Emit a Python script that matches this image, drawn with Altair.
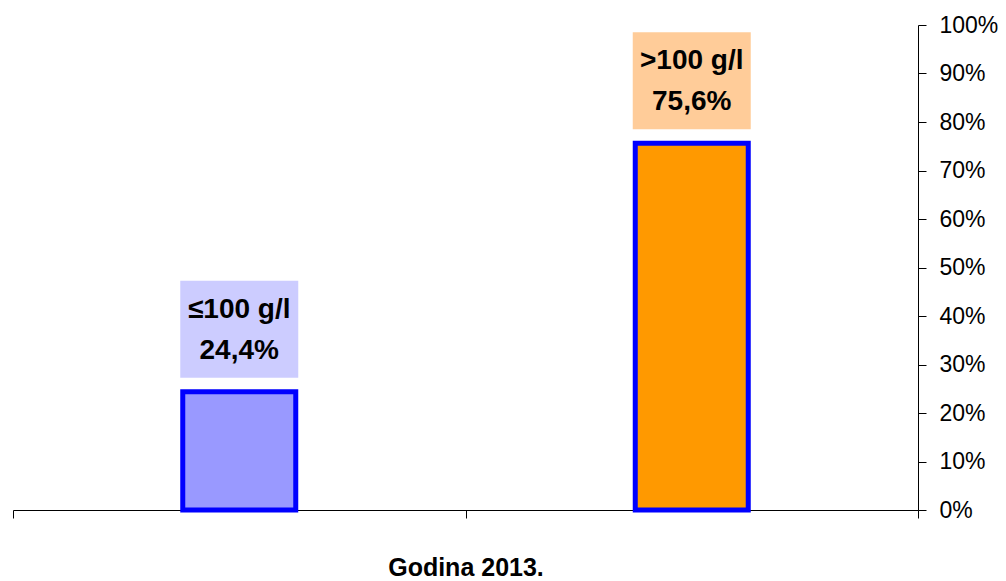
import altair as alt
import pandas as pd

categories = ["≤100 g/l", ">100 g/l"]
values = [0.244, 0.756]
value_labels = ["24,4%", "75,6%"]
bar_colors = ["#9999FF", "#FF9900"]
box_colors = ["#CCCCFF", "#FFCC99"]
x_title = "Godina 2013."

df = pd.DataFrame({
    "cat": categories,
    "value": values,
    "vlabel": value_labels,
    "bar_color": bar_colors,
    "box_color": box_colors,
})

x_enc = alt.X(
    "cat:N",
    sort=categories,
    scale=alt.Scale(paddingInner=0, paddingOuter=0),
    axis=alt.Axis(
        title=x_title,
        labels=False,
        tickBand="extent",
        domainColor="#000000",
        tickColor="#000000",
        tickSize=8,
        titleFont="Liberation Sans",
        titleFontSize=25,
        titleFontWeight="bold",
        titleColor="#000000",
        titlePadding=37,
    ),
)

y_scale = alt.Scale(domain=[0, 1], nice=False)

base = alt.Chart(df)

bars = base.mark_bar(size=113, stroke="#0000FF", strokeWidth=5).encode(
    x=x_enc,
    y=alt.Y(
        "value:Q",
        scale=y_scale,
        axis=alt.Axis(
            orient="right",
            format=".0%",
            values=[i / 10 for i in range(11)],
            grid=False,
            title=None,
            domainColor="#000000",
            tickColor="#000000",
            tickSize=8,
            labelPadding=13,
            labelFont="Liberation Sans",
            labelFontSize=23,
            labelColor="#000000",
        ),
    ),
    color=alt.Color("bar_color:N", scale=None),
)

boxes = base.mark_bar(size=118, yOffset=-14, y2Offset=-111).encode(
    x=alt.X("cat:N", sort=categories),
    y=alt.Y("value:Q", scale=y_scale),
    y2="value:Q",
    color=alt.Color("box_color:N", scale=None),
)

text1 = base.mark_text(
    font="Liberation Sans", fontSize=28, fontWeight="bold", color="#000000",
    dy=-82, baseline="middle",
).encode(
    x=alt.X("cat:N", sort=categories),
    y=alt.Y("value:Q", scale=y_scale),
    text="cat:N",
)

text2 = base.mark_text(
    font="Liberation Sans", fontSize=28, fontWeight="bold", color="#000000",
    dy=-41, baseline="middle",
).encode(
    x=alt.X("cat:N", sort=categories),
    y=alt.Y("value:Q", scale=y_scale),
    text="vlabel:N",
)

chart = alt.layer(bars, boxes, text1, text2).properties(
    width=905,
    height=485,
    padding={"left": 4, "top": 6, "right": 0, "bottom": 0},
    background="#FFFFFF",
).configure_view(stroke=None)

chart.save("out.html", embed_options={"renderer": "svg", "actions": False})
